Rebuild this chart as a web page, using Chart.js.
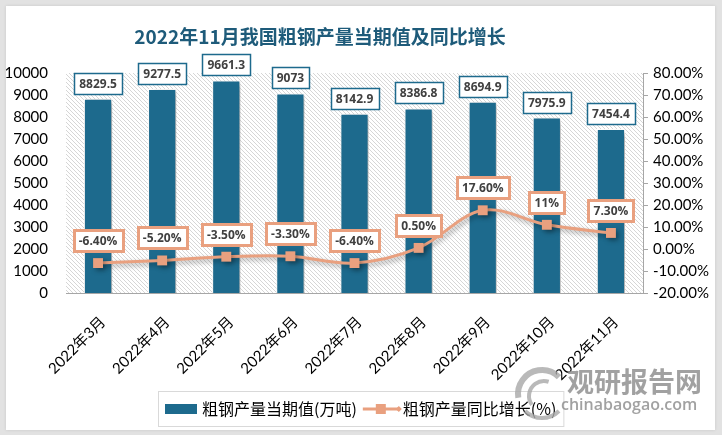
<!DOCTYPE html>
<html><head><meta charset="utf-8">
<script src="https://cdn.jsdelivr.net/npm/chart.js@4.4.0/dist/chart.umd.min.js"></script>
<style>
html,body{margin:0;padding:0;background:#e2e2e2;width:722px;height:435px;overflow:hidden}
#panel{position:absolute;left:6px;top:6px;width:709px;height:424px;background:#fff;box-shadow:0 0 3px rgba(0,0,0,0.12)}
canvas{display:block}
</style></head><body>
<div id="panel"><canvas id="c" width="709" height="424"></canvas></div>
<script>
// ---- data ----
const categories = ['2022年3月','2022年4月','2022年5月','2022年6月','2022年7月','2022年8月','2022年9月','2022年10月','2022年11月'];
const outputValues = [8829.5, 9277.5, 9661.3, 9073, 8142.9, 8386.8, 8694.9, 7975.9, 7454.4];
const outputLabels = ['8829.5','9277.5','9661.3','9073','8142.9','8386.8','8694.9','7975.9','7454.4'];
const growthValues = [-6.4, -5.2, -3.5, -3.3, -6.4, 0.5, 17.6, 11, 7.3];
const growthLabels = ['-6.40%','-5.20%','-3.50%','-3.30%','-6.40%','0.50%','17.60%','11%','7.30%'];
const leftTicks = {min: 0, max: 10000, step: 1000};
const rightTicks = {min: -20, max: 80, step: 10};
const titleText = '2022年11月我国粗钢产量当期值及同比增长';
const seriesNames = ['粗钢产量当期值(万吨)', '粗钢产量同比增长(%)'];

// ---- styles ----
const BAR = '#1d6a8d';
const LINE = '#e9a07f';
const CJK = '"Noto Sans CJK SC"';
const LAT = 'Lato, "Noto Sans CJK SC", sans-serif';

function hatch() {
  const c = document.createElement('canvas');
  c.width = 4; c.height = 4;
  const x = c.getContext('2d');
  x.fillStyle = '#ffffff'; x.fillRect(0,0,4,4);
  x.strokeStyle = '#d6d6d6'; x.lineWidth = 1;
  x.beginPath();
  x.moveTo(0,0); x.lineTo(4,4);
  x.moveTo(-1,3); x.lineTo(1,5);
  x.moveTo(3,-1); x.lineTo(5,1);
  x.stroke();
  return c;
}

const bgPlugin = {
  id: 'bg',
  beforeDatasetsDraw(chart) {
    const {ctx, chartArea: a} = chart;
    ctx.save();
    ctx.fillStyle = ctx.createPattern(hatch(), 'repeat');
    ctx.fillRect(a.left, a.top, a.right - a.left, a.bottom - a.top);
    ctx.restore();
  },
  beforeDatasetDraw(chart, args) {
    const ctx = chart.ctx;
    ctx.save();
    ctx.shadowColor = 'rgba(0,0,0,0.35)';
    ctx.shadowBlur = 5;
    ctx.shadowOffsetX = 2.5;
    ctx.shadowOffsetY = 2.5;
  },
  afterDatasetDraw(chart) { chart.ctx.restore(); }
};

function box(ctx, cx, bottom, text, border, bw) {
  ctx.font = 'bold 12px "Open Sans", sans-serif';
  const w = Math.round(ctx.measureText(text).width) + 10;
  const h = 21;
  const x = Math.round(cx - w/2), y = Math.round(bottom - h);
  ctx.fillStyle = '#fff';
  ctx.fillRect(x, y, w, h);
  ctx.strokeStyle = border; ctx.lineWidth = bw;
  ctx.strokeRect(x + 0.5, y + 0.5, w, h);
  ctx.fillStyle = '#404040';
  ctx.textAlign = 'center'; ctx.textBaseline = 'middle';
  ctx.fillText(text, cx, y + h/2 + 1);
}

const labelPlugin = {
  id: 'labels',
  afterDatasetsDraw(chart) {
    const ctx = chart.ctx;
    ctx.save();
    chart.getDatasetMeta(0).data.forEach((el, i) => box(ctx, el.x, el.y - 5, outputLabels[i], BAR, 1.5));
    chart.getDatasetMeta(1).data.forEach((el, i) => box(ctx, el.x, el.y - 12, growthLabels[i], LINE, 3));
    ctx.restore();
  }
};

const decorPlugin = {
  id: 'decor',
  afterDraw(chart) {
    const ctx = chart.ctx;
    ctx.save();
    // title
    ctx.font = 'bold 19px ' + CJK;
    ctx.fillStyle = '#1e5b7a';
    ctx.textAlign = 'center'; ctx.textBaseline = 'middle';
    ctx.fillText(titleText, 314, 31);
    // legend
    ctx.font = '16px ' + CJK;
    const t1 = ctx.measureText(seriesNames[0]).width;
    const t2 = ctx.measureText(seriesNames[1]).width;
    const total = 7 + 32 + 5 + t1 + 6 + 38 + 2 + t2 + 7;
    const bx = Math.round(355 - total/2), by = 385, bh = 35;
    ctx.strokeStyle = '#d9d9d9'; ctx.lineWidth = 1;
    ctx.strokeRect(bx + 0.5, by + 0.5, total, bh);
    let x = bx + 7;
    const cy = by + bh/2 + 0.5;
    ctx.fillStyle = BAR; ctx.fillRect(x, cy - 5, 32, 10);
    x += 37;
    ctx.fillStyle = '#000'; ctx.textAlign = 'left';
    ctx.fillText(seriesNames[0], x, cy);
    x += t1 + 6;
    ctx.strokeStyle = LINE; ctx.lineWidth = 3;
    ctx.beginPath(); ctx.moveTo(x, cy); ctx.lineTo(x + 36, cy); ctx.stroke();
    ctx.fillStyle = LINE; ctx.fillRect(x + 13, cy - 5, 10, 10);
    ctx.beginPath(); ctx.moveTo(x+33, cy); ctx.lineTo(x+36, cy-3); ctx.lineTo(x+39, cy); ctx.lineTo(x+36, cy+3); ctx.closePath(); ctx.fill();
    x += 40;
    ctx.fillStyle = '#000';
    ctx.fillText(seriesNames[1], x, cy);
    // watermark
    ctx.globalAlpha = 0.8;
    ctx.strokeStyle = '#a8a8a8';
    ctx.lineWidth = 6;
    ctx.beginPath(); ctx.arc(536, 388, 24, Math.PI*0.95, Math.PI*1.75); ctx.stroke();
    ctx.lineWidth = 4;
    ctx.beginPath(); ctx.arc(538, 390, 15, Math.PI*0.8, Math.PI*1.6); ctx.stroke();
    ctx.beginPath(); ctx.arc(536, 388, 24, Math.PI*0.25, Math.PI*0.75); ctx.stroke();
    ctx.fillStyle = '#8a8a8a';
    ctx.font = 'bold 27px ' + CJK;
    ctx.textAlign = 'left'; ctx.textBaseline = 'middle';
    ctx.fillText('观研报告网', 561, 376);
    ctx.font = '600 16px "Open Sans", sans-serif';
    ctx.fillText('chinabaogao.com', 555, 399);
    ctx.restore();
  }
};

new Chart(document.getElementById('c'), {
  data: {
    labels: categories,
    datasets: [
      { type: 'bar', label: seriesNames[0], data: outputValues, yAxisID: 'y',
        backgroundColor: BAR, borderColor: '#ffffff', borderWidth: 1,
        barPercentage: 0.44, categoryPercentage: 1, order: 2 },
      { type: 'line', label: seriesNames[1], data: growthValues, yAxisID: 'y1',
        borderColor: LINE, backgroundColor: LINE, borderWidth: 3, tension: 0.35,
        pointStyle: 'rect', pointRadius: 7, pointBackgroundColor: LINE, pointBorderWidth: 0, order: 1 }
    ]
  },
  options: {
    responsive: false, animation: false,
    layout: { padding: { top: 67, left: 0, right: 0, bottom: 0 } },
    plugins: { legend: { display: false }, title: { display: false }, tooltip: { enabled: false } },
    scales: {
      x: {
        grid: { display: false },
        border: { display: true, color: '#a6a6a6', width: 1 },
        ticks: { color: '#000', font: { family: LAT, size: 15 }, minRotation: 45, maxRotation: 45, padding: 12, labelOffset: 5 },
        afterFit(s) { s.height = 137; }
      },
      y: {
        position: 'left', min: leftTicks.min, max: leftTicks.max,
        grid: { display: false }, border: { display: false },
        ticks: { stepSize: leftTicks.step, color: '#000', padding: 10, font: { family: LAT, size: 15 },
                 callback: v => String(v) },
        afterFit(s) { s.width = 60; }
      },
      y1: {
        position: 'right', min: rightTicks.min, max: rightTicks.max,
        grid: { drawOnChartArea: false, drawTicks: true, tickLength: 5, color: '#a6a6a6' },
        border: { display: true, color: '#a6a6a6' },
        ticks: { stepSize: rightTicks.step, color: '#000', padding: 5, font: { family: LAT, size: 15 },
                 callback: v => v.toFixed(2) + '%' },
        afterFit(s) { s.width = 72; }
      }
    }
  },
  plugins: [bgPlugin, labelPlugin, decorPlugin]
});
</script>
</body></html>
